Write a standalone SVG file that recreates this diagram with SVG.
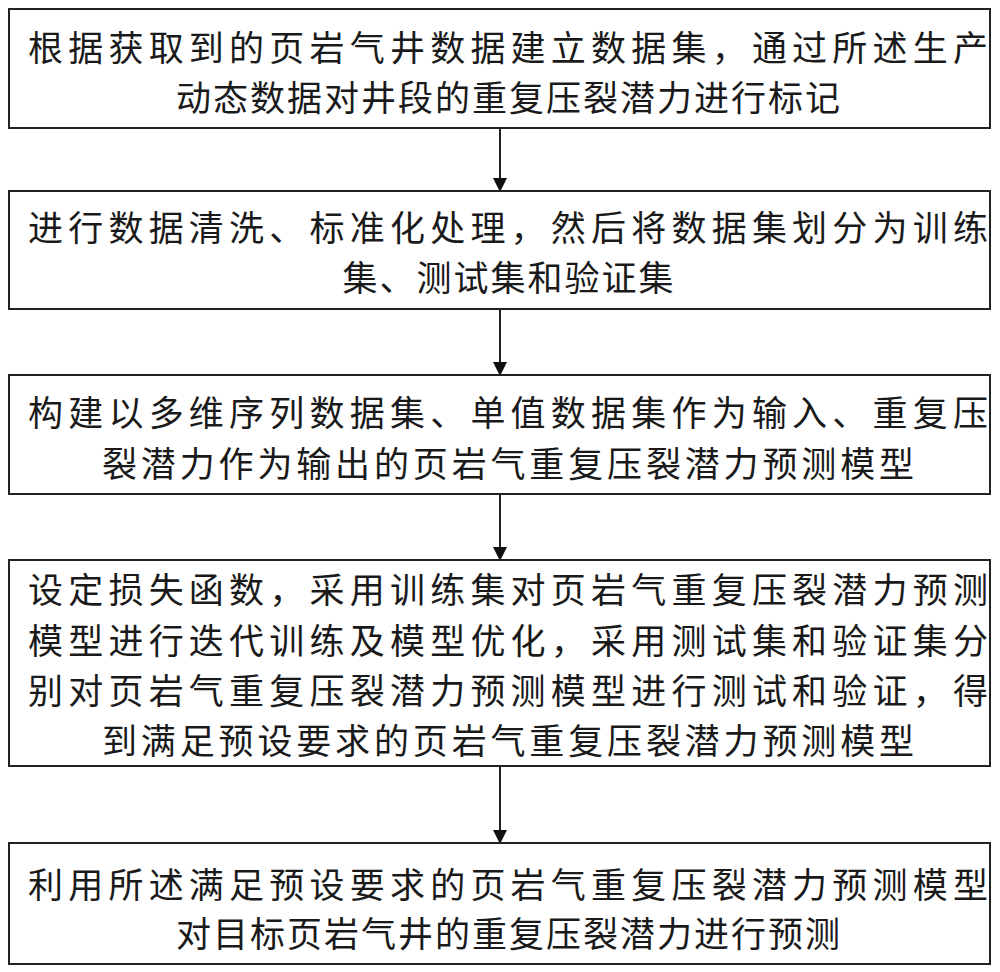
<svg xmlns="http://www.w3.org/2000/svg" width="1000" height="972" viewBox="0 0 1000 972">
<style>
rect{fill:#fff;stroke:#222;stroke-width:2}
text{font-family:"Noto Sans CJK SC","Noto Sans CJK JP",sans-serif;font-size:35px;fill:#1a1a1a;text-anchor:middle}
.c line{stroke:#222;stroke-width:2}
</style>
<defs><marker id="a" markerWidth="14" markerHeight="14" refX="12" refY="7" orient="auto" markerUnits="userSpaceOnUse" viewBox="0 0 14 14"><path d="M0,0L14,7L0,14Z" fill="#111"/></marker></defs>
<rect width="1000" height="972" style="stroke:none"/>
<g class="c">
<line x1="500" y1="128" x2="500" y2="190" marker-end="url(#a)"/>
<line x1="500" y1="309" x2="500" y2="374" marker-end="url(#a)"/>
<line x1="500" y1="494" x2="500" y2="559" marker-end="url(#a)"/>
<line x1="500" y1="766" x2="500" y2="842" marker-end="url(#a)"/>
</g>
<g id="n1"><rect x="9" y="9" width="981" height="119"/><text x="508" y="61" textLength="960" lengthAdjust="spacing">根据获取到的页岩气井数据建立数据集，通过所述生产</text><text x="508" y="111" textLength="664" lengthAdjust="spacing">动态数据对井段的重复压裂潜力进行标记</text></g>
<g id="n2"><rect x="9" y="191" width="981" height="118"/><text x="508" y="241" textLength="960" lengthAdjust="spacing">进行数据清洗、标准化处理，然后将数据集划分为训练</text><text x="508" y="291" textLength="331" lengthAdjust="spacing">集、测试集和验证集</text></g>
<g id="n3"><rect x="9" y="375" width="981" height="119"/><text x="508" y="426" textLength="960" lengthAdjust="spacing">构建以多维序列数据集、单值数据集作为输入、重复压</text><text x="508" y="477" textLength="812" lengthAdjust="spacing">裂潜力作为输出的页岩气重复压裂潜力预测模型</text></g>
<g id="n4"><rect x="9" y="560" width="981" height="206"/><text x="508" y="603" textLength="960" lengthAdjust="spacing">设定损失函数，采用训练集对页岩气重复压裂潜力预测</text><text x="508" y="654" textLength="960" lengthAdjust="spacing">模型进行迭代训练及模型优化，采用测试集和验证集分</text><text x="508" y="704" textLength="960" lengthAdjust="spacing">别对页岩气重复压裂潜力预测模型进行测试和验证，得</text><text x="508" y="754" textLength="812" lengthAdjust="spacing">到满足预设要求的页岩气重复压裂潜力预测模型</text></g>
<g id="n5"><rect x="9" y="843" width="981" height="121"/><text x="508" y="898" textLength="960" lengthAdjust="spacing">利用所述满足预设要求的页岩气重复压裂潜力预测模型</text><text x="508" y="947" textLength="664" lengthAdjust="spacing">对目标页岩气井的重复压裂潜力进行预测</text></g>
</svg>
